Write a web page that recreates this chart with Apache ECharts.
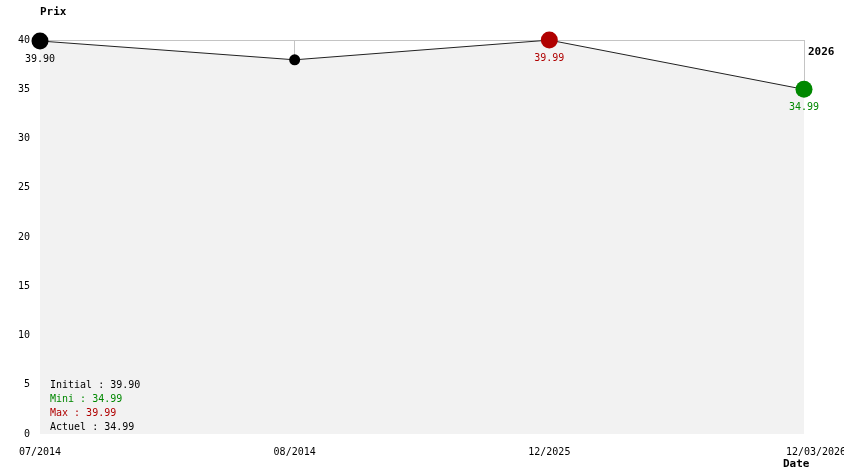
<!DOCTYPE html>
<html>
<head>
<meta charset="utf-8">
<script src="https://cdn.jsdelivr.net/npm/echarts@6/dist/echarts.min.js"></script>
<style>html,body{margin:0;padding:0;background:#fff}#c{width:844px;height:474px}</style>
</head>
<body>
<div id="c"></div>
<script>
var categories = ['07/2014', '08/2014', '12/2025', '12/03/2026'];
var prices = [39.90, 37.99, 39.99, 34.99];
var yTicks = [0, 5, 10, 15, 20, 25, 30, 35, 40];
var yearLabel = '2026';

var FONT = '"DejaVu Sans Mono", monospace';
var yMax = yTicks[yTicks.length - 1];
var initial = prices[0], actuel = prices[prices.length - 1];
var mini = Math.min.apply(null, prices), maxi = Math.max.apply(null, prices);
var iMin = prices.lastIndexOf(mini), iMax = prices.indexOf(maxi);

var pts = prices.map(function (v, i) {
  var d = { value: v, symbolSize: 11, itemStyle: { color: '#000' }, label: { show: false } };
  if (i === 0) { d.symbolSize = 17; d.label = { show: true, color: '#000', formatter: v.toFixed(2) }; }
  if (i === iMax) { d.symbolSize = 17; d.itemStyle = { color: '#b00000' }; d.label = { show: true, color: '#b00000', formatter: v.toFixed(2) }; }
  if (i === iMin) { d.symbolSize = 17; d.itemStyle = { color: '#008800' }; d.label = { show: true, color: '#008800', formatter: v.toFixed(2) }; }
  return d;
});

var xData = categories.map(function (c, i) {
  if (i === categories.length - 1) return { value: c, textStyle: { padding: [0, 0, 0, 24] } };
  return c;
});

var vLines = prices.map(function (v, i) {
  return [{ coord: [i, v] }, { coord: [i, yMax] }];
});

var legendLines = [
  { t: 'Initial : ' + initial.toFixed(2), c: '#000' },
  { t: 'Mini : ' + mini.toFixed(2), c: '#008800' },
  { t: 'Max : ' + maxi.toFixed(2), c: '#b00000' },
  { t: 'Actuel : ' + actuel.toFixed(2), c: '#000' }
];

var chart = echarts.init(document.getElementById('c'));
chart.setOption({
  animation: false,
  textStyle: { fontFamily: FONT },
  grid: { left: 40, right: 40, top: 40, bottom: 40, containLabel: false, outerBoundsMode: 'none' },
  xAxis: [{
    type: 'category', data: xData, boundaryGap: false,
    axisLine: { show: false }, axisTick: { show: false },
    axisLabel: { color: '#000', fontFamily: FONT, fontSize: 10, margin: 13, hideOverlap: false },
    splitLine: { show: false }
  }, {
    type: 'category', position: 'top', data: categories, boundaryGap: false,
    axisLine: { show: true, lineStyle: { color: '#c4c4c4', width: 1 } },
    axisTick: { show: false }, axisLabel: { show: false }
  }],
  yAxis: {
    type: 'value', min: yTicks[0], max: yMax, interval: 5,
    axisLine: { show: false }, axisTick: { show: false }, splitLine: { show: false },
    axisLabel: { color: '#000', fontFamily: FONT, fontSize: 10, margin: 10 }
  },
  series: [{
    type: 'line', data: pts, symbol: 'circle',
    lineStyle: { color: '#222', width: 1 },
    areaStyle: { color: '#f2f2f2', opacity: 1 },
    label: { position: 'bottom', distance: 5, fontFamily: FONT, fontSize: 10 },
    markLine: {
      silent: true, symbol: 'none', label: { show: false },
      lineStyle: { color: '#c4c4c4', width: 1, type: 'solid' },
      data: vLines, z: 1
    },
    z: 3
  }],
  graphic: [
    { type: 'text', left: 40, top: 7, style: { text: 'Prix', font: 'bold 11px ' + FONT, fill: '#000' } },
    { type: 'text', left: 783, top: 459, style: { text: 'Date', font: 'bold 11px ' + FONT, fill: '#000' } },
    { type: 'text', left: 808, top: 47, style: { text: yearLabel, font: 'bold 11px ' + FONT, fill: '#000' } }
  ].concat(legendLines.map(function (l, i) {
    return { type: 'text', left: 50, top: 380 + i * 14, z: 10, style: { text: l.t, font: '10px ' + FONT, fill: l.c } };
  }))
});
</script>
</body>
</html>
